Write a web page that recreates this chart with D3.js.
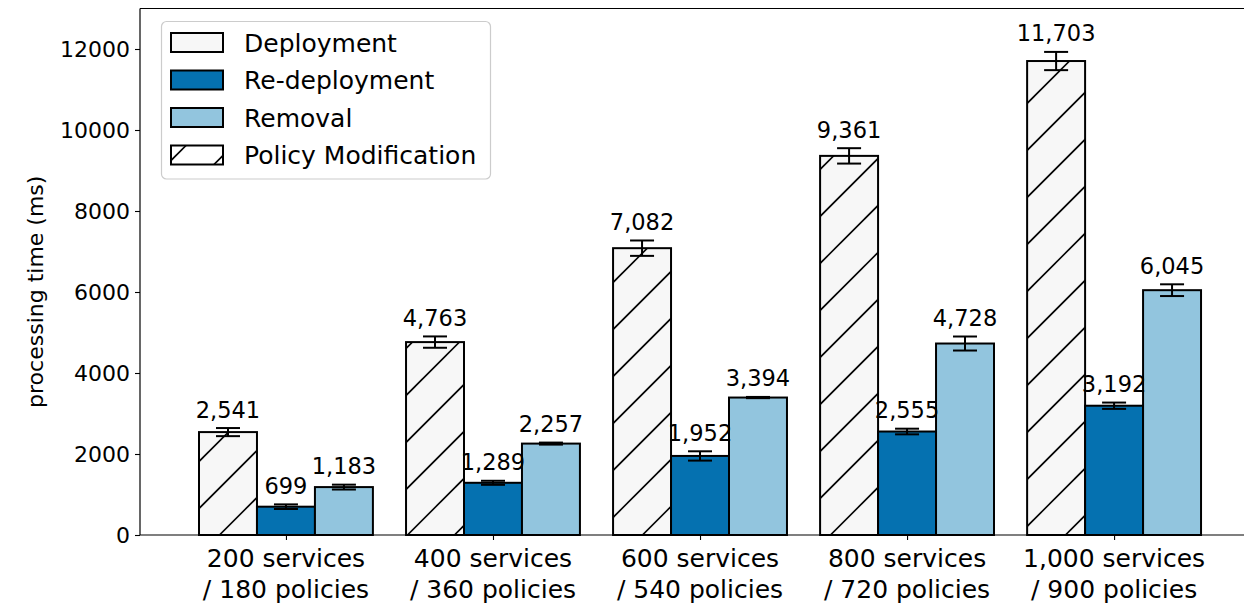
<!DOCTYPE html>
<html>
<head>
<meta charset="utf-8">
<script src="https://cdn.jsdelivr.net/npm/d3@7"></script>
<style>
  html, body { margin: 0; padding: 0; background: #ffffff; }
  svg { display: block; font-family: "DejaVu Sans", sans-serif; }
</style>
</head>
<body>
<svg id="chart" width="1244" height="604"></svg>
<script>
// ---- data ----
const categoriesLine1 = ["200 services", "400 services", "600 services", "800 services", "1,000 services"];
const categoriesLine2 = ["/ 180 policies", "/ 360 policies", "/ 540 policies", "/ 720 policies", "/ 900 policies"];
const deployment = [2541, 4763, 7082, 9361, 11703];
const redeployment = [699, 1289, 1952, 2555, 3192];
const removal = [1183, 2257, 3394, 4728, 6045];
const deploymentErr = [100, 140, 190, 190, 225];
const redeploymentErr = [57, 50, 115, 70, 78];
const removalErr = [60, 25, 15, 173, 145];
const yTicks = [0, 2000, 4000, 6000, 8000, 10000, 12000];
const legendLabels = ["Deployment", "Re-deployment", "Removal", "Policy Modification"];
const yLabel = "processing time (ms)";

// ---- layout ----
const W = 1244, H = 604;
const plotLeft = 140, plotRight = 1259, plotTop = 8.5, plotBottom = 535;
const barW = 0.28;
const colors = { dep: "#f7f7f7", redep: "#0571b0", rem: "#92c5de" };
const hatchPeriod = 47, hatchPhase = 2.5;

const svg = d3.select("#chart");
const defs = svg.append("defs");
let clipId = 0;

// draws "/" hatch lines (x + y = phase + k*period) clipped to a rectangle
function hatchRect(parent, rx, ry, rw, rh) {
  const id = "clip" + (clipId++);
  defs.append("clipPath").attr("id", id).append("rect")
    .attr("x", rx).attr("y", ry).attr("width", rw).attr("height", rh);
  const hg = parent.append("g").attr("clip-path", `url(#${id})`);
  const sMin = rx + ry, sMax = rx + rw + ry + rh;
  const k0 = Math.floor((sMin - hatchPhase) / hatchPeriod);
  const k1 = Math.ceil((sMax - hatchPhase) / hatchPeriod);
  const ks = d3.range(k0, k1 + 1);
  hg.selectAll("line").data(ks).enter().append("line")
    .attr("x1", k => (hatchPhase + k * hatchPeriod) - (ry + rh + 2))
    .attr("y1", ry + rh + 2)
    .attr("x2", k => (hatchPhase + k * hatchPeriod) - (ry - 2))
    .attr("y2", ry - 2)
    .attr("stroke", "#000").attr("stroke-width", 1.6);
}

const x = d3.scaleLinear().domain([-0.705, 4.7]).range([plotLeft, plotRight]);
const y = d3.scaleLinear().domain([0, 13000]).range([plotBottom, plotTop]);

const series = [
  { key: "dep", values: deployment, err: deploymentErr, offset: -1, hatch: true },
  { key: "redep", values: redeployment, err: redeploymentErr, offset: 0, hatch: false },
  { key: "rem", values: removal, err: removalErr, offset: 1, hatch: false }
];

const g = svg.append("g");

// bars
series.forEach(s => {
  const grp = g.append("g");
  const data = s.values.map((v, i) => ({
    v, i,
    bx: x(i + s.offset * barW - barW / 2),
    bw: x(barW) - x(0),
    by: y(v),
    bh: y(0) - y(v)
  }));
  grp.selectAll("rect.fill").data(data).enter().append("rect")
    .attr("x", d => d.bx).attr("width", d => d.bw)
    .attr("y", d => d.by).attr("height", d => d.bh)
    .attr("fill", colors[s.key]);
  if (s.hatch) data.forEach(d => hatchRect(grp, d.bx, d.by, d.bw, d.bh));
  grp.selectAll("rect.edge").data(data).enter().append("rect")
    .attr("x", d => d.bx).attr("width", d => d.bw)
    .attr("y", d => d.by).attr("height", d => d.bh)
    .attr("fill", "none").attr("stroke", "#000").attr("stroke-width", 2);
});

// error bars + labels
const fmt = d3.format(",");
series.forEach(s => {
  const data = s.values.map((v, i) => ({ v, i, e: s.err[i], cx: x(i + s.offset * barW) }));
  const eg = g.append("g").attr("stroke", "#000").attr("stroke-width", 2);
  data.forEach(d => {
    eg.append("line").attr("x1", d.cx).attr("x2", d.cx).attr("y1", y(d.v - d.e)).attr("y2", y(d.v + d.e));
    eg.append("line").attr("x1", d.cx - 12).attr("x2", d.cx + 12).attr("y1", y(d.v - d.e)).attr("y2", y(d.v - d.e));
    eg.append("line").attr("x1", d.cx - 12).attr("x2", d.cx + 12).attr("y1", y(d.v + d.e)).attr("y2", y(d.v + d.e));
  });
  g.append("g").selectAll("text").data(data).enter().append("text")
    .attr("x", d => d.cx).attr("y", d => y(d.v + d.e) - 10.5)
    .attr("text-anchor", "middle").attr("font-size", 22.5).attr("fill", "#000")
    .text(d => fmt(d.v));
});

// axes
const yAxis = d3.axisLeft(y).tickValues(yTicks).tickSize(5).tickPadding(5).tickFormat(d3.format("d"));
const ya = svg.append("g").attr("transform", `translate(${plotLeft},0)`).call(yAxis);
ya.select(".domain").remove();
ya.selectAll("line").attr("stroke", "#000").attr("stroke-width", 1.1);
ya.selectAll("text").attr("font-size", 22).attr("font-family", "DejaVu Sans").attr("fill", "#000");

const xAxis = d3.axisBottom(x).tickValues([0, 1, 2, 3, 4]).tickSize(5).tickFormat("");
const xa = svg.append("g").attr("transform", `translate(0,${plotBottom})`).call(xAxis);
xa.select(".domain").remove();
xa.selectAll("line").attr("stroke", "#000").attr("stroke-width", 1.1);
const xl = svg.append("g").selectAll("text").data(categoriesLine1).enter().append("text")
  .attr("x", (d, i) => x(i)).attr("y", 567)
  .attr("text-anchor", "middle").attr("font-size", 25).attr("fill", "#000");
xl.append("tspan").attr("x", (d, i) => x(i)).attr("dy", 0).text(d => d);
xl.append("tspan").attr("x", (d, i) => x(i)).attr("dy", 31).text((d, i) => categoriesLine2[i]);

// spines
const sp = svg.append("g").attr("stroke", "#000").attr("stroke-width", 1.2).attr("fill", "none");
sp.append("line").attr("x1", plotLeft).attr("x2", plotLeft).attr("y1", plotTop).attr("y2", plotBottom);
sp.append("line").attr("x1", plotLeft).attr("x2", plotRight).attr("y1", plotBottom).attr("y2", plotBottom);
sp.append("line").attr("x1", plotLeft).attr("x2", plotRight).attr("y1", plotTop).attr("y2", plotTop);
sp.append("line").attr("x1", plotRight).attr("x2", plotRight).attr("y1", plotTop).attr("y2", plotBottom);

// y label
svg.append("text")
  .attr("transform", `translate(43,${(plotTop + plotBottom) / 2 + 20}) rotate(-90)`)
  .attr("text-anchor", "middle").attr("font-size", 22).attr("fill", "#000")
  .text(yLabel);

// legend
const lg = svg.append("g");
lg.append("rect").attr("x", 161.5).attr("y", 21.5).attr("width", 329).attr("height", 157.5)
  .attr("rx", 5).attr("fill", "#fff").attr("fill-opacity", 0.8)
  .attr("stroke", "#cccccc").attr("stroke-width", 1.2);
const legendFills = [colors.dep, colors.redep, colors.rem, "#ffffff"];
const legendRowY = [42.5, 80, 117.5, 155];
legendLabels.forEach((lab, i) => {
  const cy = legendRowY[i];
  lg.append("rect").attr("x", 171).attr("y", cy - 9.5).attr("width", 52).attr("height", 19)
    .attr("fill", legendFills[i]);
  if (i === 3) hatchRect(lg, 171, cy - 9.5, 52, 19);
  lg.append("rect").attr("x", 171).attr("y", cy - 9.5).attr("width", 52).attr("height", 19)
    .attr("fill", "none").attr("stroke", "#000").attr("stroke-width", 2);
  lg.append("text").attr("x", 244).attr("y", cy + 9)
    .attr("font-size", 25).attr("fill", "#000").text(lab);
});
</script>
</body>
</html>
